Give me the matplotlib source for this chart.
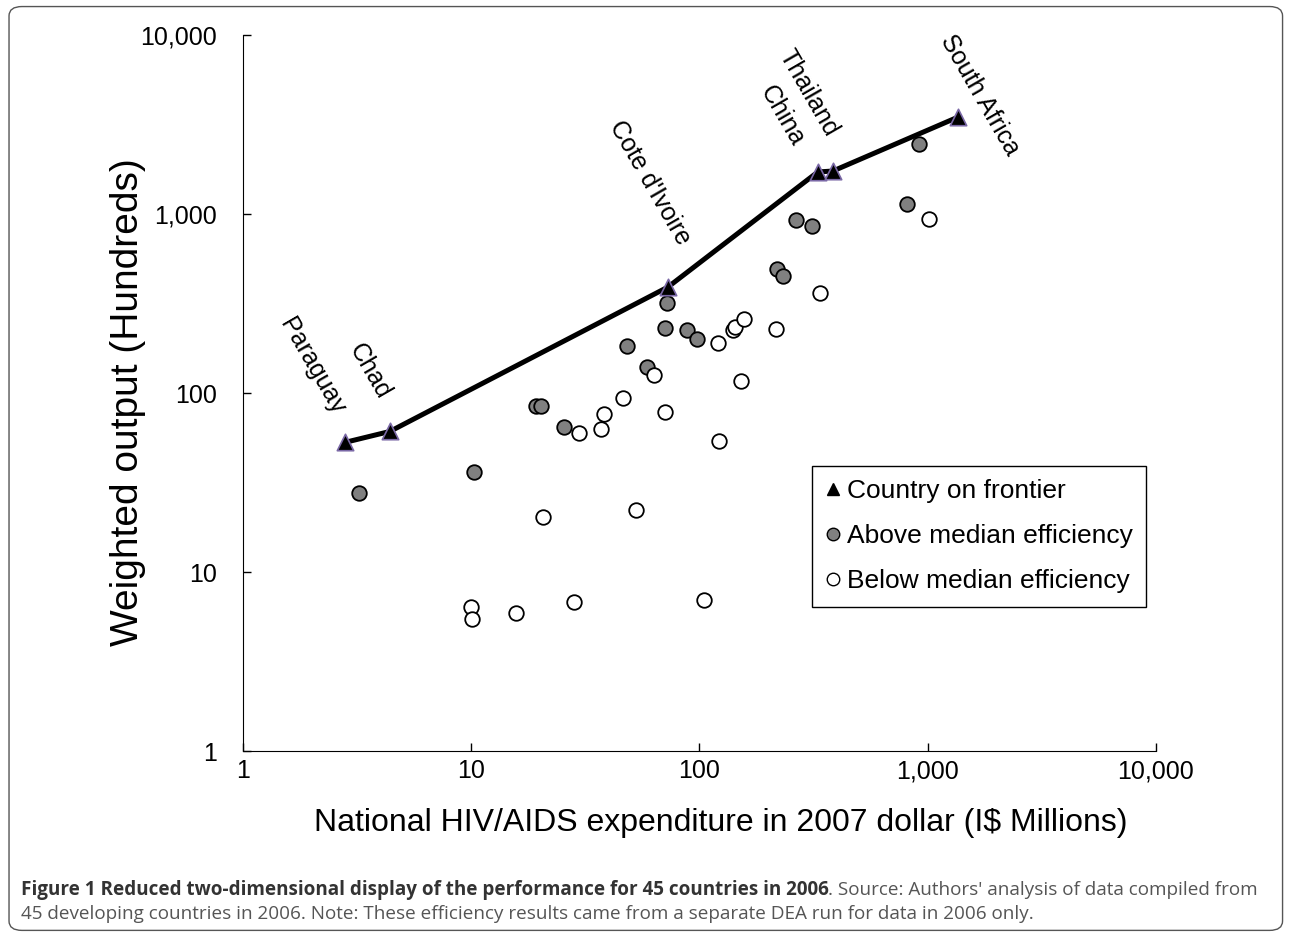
import matplotlib
matplotlib.use("Agg")
import matplotlib.pyplot as plt
from matplotlib.lines import Line2D
from matplotlib.patches import FancyBboxPatch

plt.rcParams['font.family'] = ['Liberation Sans', 'DejaVu Sans']

# frontier countries (expenditure, weighted output)
front_names = ['Paraguay', 'Chad', "Cote d'Ivoire", 'China', 'Thailand', 'South Africa']
front_x = [2.8, 4.4, 72.8, 330, 384, 1358]
front_y = [53, 61, 391, 1718, 1738, 3480]

# above median efficiency
above_x = [3.22, 10.3, 19.3, 20.3, 25.6, 48.3, 58.7, 70.8, 72.3, 88.5, 97.8,
           218, 233, 266, 311, 809, 912]
above_y = [27.6, 36.2, 85, 85, 64.3, 184, 140, 230, 317, 225, 200,
           493, 452, 925, 860, 1133, 2450]

# below median efficiency
below_x = [63.4, 46.1, 38.3, 37.0, 29.7, 70.6, 20.6, 52.5, 9.97, 10.1, 15.7,
           28.3, 104.6, 120.5, 139.8, 143.3, 157, 216, 337, 1016, 152, 122]
below_y = [126, 93.4, 76, 63.2, 60, 78, 20.4, 22.1, 6.4, 5.44, 5.93,
           6.82, 6.98, 190, 225, 235, 259, 227, 361, 942, 116, 54]

# label offsets in pixels from each frontier point
label_dx = [-33, -20, -18, -36, -24, 22]
label_dy = [76, 60, 104, 56, 78, 22]

fig = plt.figure(figsize=(12.89, 9.36), dpi=100)
ax = fig.add_axes([0.1885, 0.1976, 0.7083, 0.765])

ax.plot(front_x, front_y, color='black', lw=3.6, zorder=3)
ax.scatter(front_x, front_y, marker='^', s=140, c='black',
           edgecolors='#7a68a6', linewidths=1.2, zorder=4)
ax.scatter(above_x, above_y, marker='o', s=110, c='#808080',
           edgecolors='black', linewidths=1.3, zorder=2)
ax.scatter(below_x, below_y, marker='o', s=110, c='white',
           edgecolors='black', linewidths=1.3, zorder=2)

for name, x, y, dx, dy in zip(front_names, front_x, front_y, label_dx, label_dy):
    ax.annotate(name, (x, y), xytext=(dx, dy), textcoords='offset pixels',
                rotation=-60, ha='center', va='center', fontsize=18,
                rotation_mode='anchor')

ax.set_xscale('log')
ax.set_yscale('log')
ax.set_xlim(1, 10000)
ax.set_ylim(1, 10000)
ticks = [1, 10, 100, 1000, 10000]
tick_labels = ['1', '10', '100', '1,000', '10,000']
ax.set_xticks(ticks)
ax.set_xticklabels(tick_labels)
ax.set_yticks(ticks)
ax.set_yticklabels(tick_labels)
ax.minorticks_off()
ax.tick_params(direction='in', length=6, width=1, labelsize=18)
ax.tick_params(axis='y', pad=19)
ax.tick_params(axis='x', pad=6)
ax.spines['top'].set_visible(False)
ax.spines['right'].set_visible(False)

ax.set_xlabel('National HIV/AIDS expenditure in 2007 dollar (I$ Millions)',
              fontsize=23, va='center')
ax.xaxis.set_label_coords(0.5235, -0.1)
ax.set_ylabel('Weighted output (Hundreds)', fontsize=28, va='center')
ax.yaxis.set_label_coords(-0.126, 0.487)

handles = [
    Line2D([], [], ls='none', marker='^', ms=8, mfc='black', mec='black'),
    Line2D([], [], ls='none', marker='o', ms=9, mfc='#808080', mec='black'),
    Line2D([], [], ls='none', marker='o', ms=9, mfc='white', mec='black'),
]
leg = ax.legend(handles, ['Country on frontier', 'Above median efficiency',
                          'Below median efficiency'],
                loc='upper left', bbox_to_anchor=(0.623, 0.398), fontsize=19,
                fancybox=False, edgecolor='black', framealpha=1,
                handlelength=0.6, handletextpad=0.25, borderpad=0.5,
                labelspacing=0.8, borderaxespad=0)
leg.get_frame().set_linewidth(1.0)

# outer rounded frame
frame = FancyBboxPatch((0.007, 0.006), 0.988, 0.987, transform=fig.transFigure,
                       boxstyle='round,pad=0,rounding_size=0.01',
                       fill=False, edgecolor='#555555', lw=1.0)
fig.patches.append(frame)

# caption
cap_family = ['Open Sans', 'DejaVu Sans']
cap_size = 13.6
bold = fig.text(0.016, 0.049, 'Figure 1 Reduced two-dimensional display of the performance '
                'for 45 countries in 2006', fontsize=cap_size, fontweight='bold',
                color='#333333', family=cap_family, va='center')
fig.canvas.draw()
bb = bold.get_window_extent()
fig.text(bb.x1 / fig.bbox.width, 0.049,
         ". Source: Authors' analysis of data compiled from", fontsize=cap_size,
         color='#555555', family=cap_family, va='center')
fig.text(0.016, 0.024, '45 developing countries in 2006. Note: These efficiency results '
         'came from a separate DEA run for data in 2006 only.', fontsize=cap_size,
         color='#555555', family=cap_family, va='center')

fig.savefig('out.png', dpi=100)
